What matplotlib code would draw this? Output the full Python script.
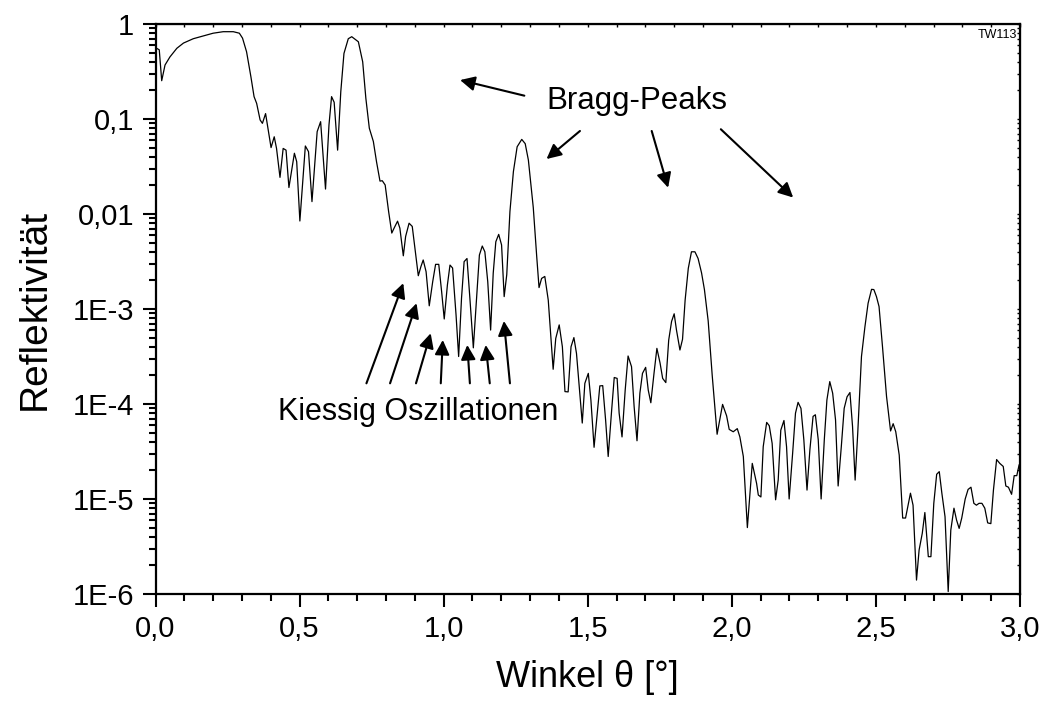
import numpy as np
import matplotlib.pyplot as plt
from matplotlib.ticker import FixedLocator, FixedFormatter, LogLocator, MultipleLocator, NullFormatter

plt.rcParams['font.family'] = ['Liberation Sans', 'DejaVu Sans']

# reflectivity curve
theta = [0.004, 0.013, 0.0215, 0.033, 0.050, 0.074, 0.097, 0.131, 0.166, 0.200,
         0.235, 0.270, 0.291, 0.302, 0.316, 0.331, 0.342, 0.351, 0.363, 0.371,
         0.382, 0.391, 0.401, 0.412, 0.420, 0.432, 0.443, 0.453, 0.463, 0.482,
         0.490, 0.501, 0.520, 0.531, 0.543, 0.561, 0.573, 0.590, 0.602, 0.611,
         0.620, 0.632, 0.643, 0.654, 0.669, 0.681, 0.704, 0.719, 0.730, 0.742,
         0.756, 0.767, 0.779, 0.787, 0.797, 0.809, 0.820, 0.828, 0.840, 0.848,
         0.860, 0.868, 0.880, 0.891, 0.900, 0.912, 0.921, 0.929, 0.939, 0.950,
         0.962, 0.972, 0.983, 0.993, 1.002, 1.013, 1.022, 1.031, 1.043, 1.052,
         1.062, 1.071, 1.081, 1.091, 1.103, 1.112, 1.124, 1.134, 1.143, 1.153,
         1.163, 1.172, 1.181, 1.191, 1.201, 1.210, 1.219, 1.230, 1.242, 1.255,
         1.271, 1.283, 1.294, 1.311, 1.323, 1.331, 1.340, 1.351, 1.363, 1.371,
         1.380, 1.389, 1.401, 1.412, 1.421, 1.432, 1.442, 1.452, 1.461, 1.481,
         1.490, 1.502, 1.511, 1.522, 1.533, 1.542, 1.552, 1.562, 1.571, 1.583,
         1.592, 1.602, 1.609, 1.619, 1.630, 1.640, 1.652, 1.661, 1.671, 1.681,
         1.690, 1.701, 1.710, 1.719, 1.730, 1.740, 1.751, 1.760, 1.771, 1.781,
         1.791, 1.800, 1.808, 1.820, 1.829, 1.838, 1.849, 1.860, 1.872, 1.883,
         1.895, 1.905, 1.918, 1.932, 1.949, 1.968, 1.982, 1.991, 2.005, 2.019,
         2.028, 2.040, 2.054, 2.071, 2.086, 2.092, 2.101, 2.109, 2.121, 2.130,
         2.140, 2.152, 2.161, 2.170, 2.181, 2.190, 2.199, 2.211, 2.221, 2.230,
         2.240, 2.250, 2.261, 2.271, 2.282, 2.290, 2.300, 2.310, 2.321, 2.330,
         2.340, 2.350, 2.360, 2.369, 2.380, 2.390, 2.400, 2.410, 2.419, 2.428,
         2.437, 2.450, 2.462, 2.473, 2.485, 2.493, 2.502, 2.511, 2.523, 2.537,
         2.551, 2.560, 2.569, 2.581, 2.593, 2.603, 2.620, 2.629, 2.641, 2.650,
         2.661, 2.670, 2.682, 2.691, 2.701, 2.711, 2.720, 2.729, 2.740, 2.751,
         2.760, 2.771, 2.780, 2.789, 2.798, 2.810, 2.820, 2.830, 2.840, 2.849,
         2.858, 2.868, 2.878, 2.888, 2.899, 2.908, 2.919, 2.930, 2.942, 2.951,
         2.960, 2.971, 2.980, 2.989, 2.997]
refl = [0.555, 0.535, 0.253, 0.37, 0.45, 0.555, 0.63, 0.70, 0.75, 0.80,
        0.83, 0.83, 0.80, 0.71, 0.51, 0.279, 0.172, 0.146, 0.0977, 0.090,
        0.114, 0.0766, 0.050, 0.065, 0.049, 0.0243, 0.049, 0.047, 0.019, 0.0436,
        0.0355, 0.00844, 0.052, 0.0453, 0.0135, 0.0736, 0.0937, 0.0183, 0.0865, 0.172,
        0.15, 0.047, 0.194, 0.49, 0.70, 0.735, 0.65, 0.40, 0.165, 0.08,
        0.058, 0.0355, 0.0222, 0.0224, 0.0202, 0.0106, 0.0063, 0.0071, 0.0084, 0.0071,
        0.00363, 0.0058, 0.0080, 0.0074, 0.0044, 0.00224, 0.00279, 0.00328, 0.00247, 0.00108,
        0.00194, 0.00295, 0.00295, 0.00152, 7.85e-4, 0.00179, 0.0029, 0.0027, 8.65e-4, 3.16e-4,
        0.0013, 0.00315, 0.0034, 0.0013, 3.9e-4, 0.00102, 0.0037, 0.0046, 0.0040, 0.00194,
        6.0e-4, 0.00238, 0.0051, 0.0061, 0.00472, 0.00135, 0.0023, 0.0106, 0.0279, 0.051,
        0.061, 0.055, 0.037, 0.0117, 0.00355, 0.00168, 0.0021, 0.0022, 0.00124, 5.55e-4,
        2.32e-4, 4.9e-4, 6.8e-4, 4.0e-4, 1.35e-4, 1.34e-4, 4.0e-4, 5.0e-4, 3.4e-4, 6.3e-5,
        1.65e-4, 2.1e-4, 1.1e-4, 3.5e-5, 8.0e-5, 1.55e-4, 1.56e-4, 6.8e-5, 2.8e-5, 8.6e-5,
        1.9e-4, 1.86e-4, 8.0e-5, 4.5e-5, 1.4e-4, 3.2e-4, 2.47e-4, 9.4e-5, 4.1e-5, 1.3e-4,
        2.1e-4, 2.43e-4, 1.4e-4, 1.03e-4, 2.1e-4, 3.85e-4, 2.7e-4, 1.86e-4, 1.68e-4, 4.7e-4,
        7.4e-4, 8.9e-4, 6.0e-4, 3.7e-4, 4.8e-4, 0.00124, 0.00268, 0.0040, 0.0040, 0.0034,
        0.0024, 0.0016, 7.5e-4, 2.0e-4, 4.8e-5, 9.9e-5, 7.5e-5, 5.4e-5, 5.1e-5, 5.5e-5,
        4.5e-5, 2.8e-5, 5.0e-6, 2.37e-5, 1.46e-5, 1.1e-5, 1.05e-5, 3.55e-5, 6.4e-5, 5.9e-5,
        3.85e-5, 9.8e-6, 1.58e-5, 5.3e-5, 6.7e-5, 3.55e-5, 1.0e-5, 3.0e-5, 8.0e-5, 1.04e-4,
        9.0e-5, 4.2e-5, 1.24e-5, 3.3e-5, 7.4e-5, 7.7e-5, 4.2e-5, 1.0e-5, 4.2e-5, 1.1e-4,
        1.72e-4, 1.3e-4, 6.8e-5, 1.37e-5, 3.55e-5, 9.0e-5, 1.19e-4, 1.32e-4, 5.8e-5, 1.58e-5,
        4.9e-5, 3.16e-4, 6.5e-4, 1.15e-3, 1.61e-3, 1.6e-3, 1.35e-3, 1.06e-3, 4.0e-4, 1.2e-4,
        5.2e-5, 6.2e-5, 5.1e-5, 2.9e-5, 6.3e-6, 6.3e-6, 1.15e-5, 8.6e-6, 1.4e-6, 2.9e-6,
        4.35e-6, 7.2e-6, 2.47e-6, 2.47e-6, 9.0e-6, 1.82e-5, 1.94e-5, 1.15e-5, 6.5e-6, 1.06e-6,
        4.7e-6, 8.0e-6, 6.0e-6, 4.9e-6, 6.3e-6, 1.0e-5, 1.26e-5, 1.33e-5, 9.0e-6, 8.6e-6,
        9.0e-6, 9.0e-6, 8.0e-6, 5.6e-6, 5.5e-6, 1.24e-5, 2.6e-5, 2.37e-5, 2.2e-5, 1.37e-5,
        1.33e-5, 1.12e-5, 1.76e-5, 1.76e-5, 2.28e-5]

x_ticks = [0.0, 0.5, 1.0, 1.5, 2.0, 2.5, 3.0]
x_labels = ['0,0', '0,5', '1,0', '1,5', '2,0', '2,5', '3,0']
y_ticks = [1, 0.1, 0.01, 1e-3, 1e-4, 1e-5, 1e-6]
y_labels = ['1', '0,1', '0,01', '1E-3', '1E-4', '1E-5', '1E-6']

# arrows: (tail x, tail y, head x, head y)
bragg_arrows = [(1.280, 0.176, 1.057, 0.257),
                (1.473, 0.0748, 1.357, 0.0379),
                (1.722, 0.0748, 1.779, 0.0189),
                (1.962, 0.078, 2.213, 0.0149)]
kiessig_tail_x = [0.732, 0.814, 0.904, 0.990, 1.091, 1.160, 1.230]
kiessig_head_x = [0.860, 0.906, 0.955, 0.997, 1.082, 1.146, 1.209]
kiessig_head_y = [1.87e-3, 1.15e-3, 5.55e-4, 4.72e-4, 4.18e-4, 4.18e-4, 7.48e-4]
kiessig_tail_y = 1.65e-4

fig = plt.figure(figsize=(10.43, 7.04), dpi=100)
ax = fig.add_axes([0.1491, 0.1563, 0.8288, 0.8096])

ax.plot(theta, refl, color='black', lw=0.9)
ax.set_yscale('log')
ax.set_xlim(0, 3.0)
ax.set_ylim(1e-6, 1)

ax.xaxis.set_major_locator(FixedLocator(x_ticks))
ax.xaxis.set_major_formatter(FixedFormatter(x_labels))
ax.xaxis.set_minor_locator(MultipleLocator(0.1))
ax.yaxis.set_major_locator(FixedLocator(y_ticks))
ax.yaxis.set_major_formatter(FixedFormatter(y_labels))
ax.yaxis.set_minor_locator(LogLocator(base=10, subs=np.arange(2, 10)))
ax.yaxis.set_minor_formatter(NullFormatter())

ax.tick_params(which='both', direction='out', width=1.5, labelsize=21)
ax.tick_params(which='major', length=9.5, pad=6)
ax.tick_params(which='minor', length=5)
for s in ax.spines.values():
    s.set_linewidth(1.6)

# small mirrored ticks on top and right
axt = ax.secondary_xaxis('top')
axt.xaxis.set_major_locator(FixedLocator(x_ticks))
axt.xaxis.set_minor_locator(MultipleLocator(0.1))
axt.tick_params(which='both', direction='in', length=2, width=1, labeltop=False)
axr = ax.secondary_yaxis('right')
axr.yaxis.set_major_locator(FixedLocator(y_ticks))
axr.yaxis.set_minor_locator(LogLocator(base=10, subs=np.arange(2, 10)))
axr.yaxis.set_minor_formatter(NullFormatter())
axr.tick_params(which='both', direction='in', length=2, width=1, labelright=False)

ax.set_xlabel('Winkel θ [°]', fontsize=26, labelpad=12)
ax.set_ylabel('Reflektivität', fontsize=28, labelpad=14)

arrow_style = dict(arrowstyle='-|>', color='black', lw=1.5, mutation_scale=22, shrinkA=0, shrinkB=0)
for x0, y0, x1, y1 in bragg_arrows:
    ax.annotate('', xy=(x1, y1), xytext=(x0, y0), arrowprops=arrow_style)
for x0, x1, y1 in zip(kiessig_tail_x, kiessig_head_x, kiessig_head_y):
    ax.annotate('', xy=(x1, y1), xytext=(x0, kiessig_tail_y), arrowprops=arrow_style)

ax.text(1.672, 0.155, 'Bragg-Peaks', fontsize=22.5, ha='center', va='center')
ax.text(0.911, 8.2e-5, 'Kiessig Oszillationen', fontsize=22, ha='center', va='center')
ax.text(0.997, 0.992, 'TW113', fontsize=9, ha='right', va='top', transform=ax.transAxes)

fig.savefig('out.png', dpi=100)
